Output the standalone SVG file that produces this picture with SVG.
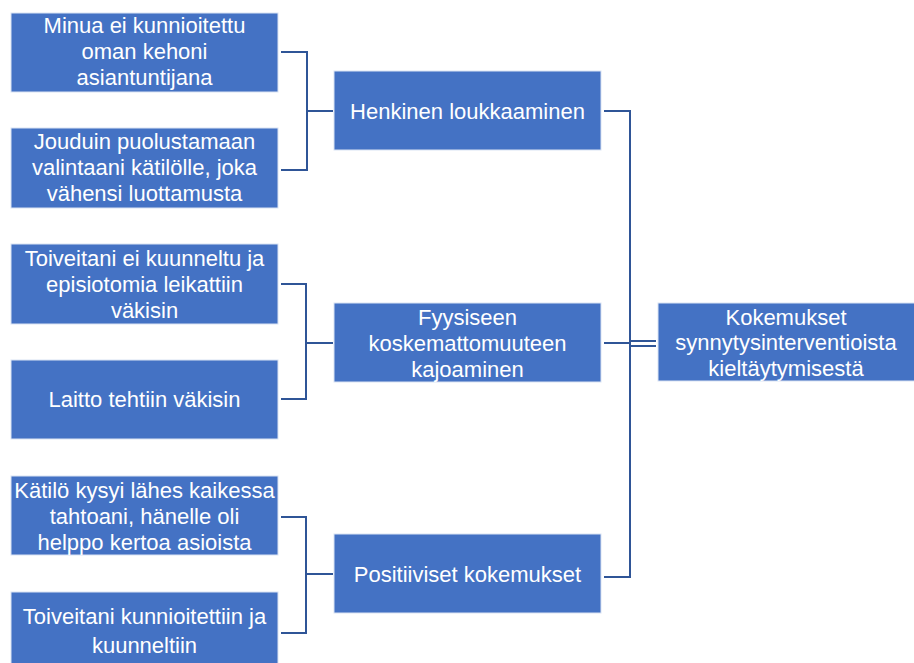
<svg xmlns="http://www.w3.org/2000/svg" width="914" height="663" viewBox="0 0 914 663">
<style>
.box{fill:#4472C4;stroke:#DAE3F3;stroke-width:1}
.t{font-family:"Liberation Sans",Arial,sans-serif;font-size:22px;fill:#FFFFFF;text-anchor:middle}
.c{fill:none;stroke:#2F5597;stroke-width:2}
</style>
<rect width="914" height="663" fill="#FFFFFF"/>
<g id="connectors">
<polyline class="c" points="281,52 307,52 307,170 281,170"/>
<line class="c" x1="307" y1="111" x2="333" y2="111"/>
<polyline class="c" points="281,284 306,284 306,399 281,399"/>
<line class="c" x1="306" y1="343" x2="333" y2="343"/>
<polyline class="c" points="281,517 306,517 306,633 281,633"/>
<line class="c" x1="306" y1="574" x2="333" y2="574"/>
<polyline class="c" points="604,111 630,111 630,577 604,577"/>
<line class="c" x1="604" y1="343" x2="630" y2="343"/>
<line class="c" x1="630" y1="341" x2="656" y2="341"/>
<line class="c" x1="630" y1="346" x2="656" y2="346"/>
</g>
<g id="n1"><rect class="box" x="11" y="13" width="267" height="79"/>
<text class="t" x="144.5" y="33">Minua ei kunnioitettu</text>
<text class="t" x="144.5" y="59">oman kehoni</text>
<text class="t" x="144.5" y="85">asiantuntijana</text></g>
<g id="n2"><rect class="box" x="11" y="128" width="267" height="80"/>
<text class="t" x="144.5" y="149">Jouduin puolustamaan</text>
<text class="t" x="144.5" y="175">valintaani kätilölle, joka</text>
<text class="t" x="144.5" y="201">vähensi luottamusta</text></g>
<g id="n3"><rect class="box" x="11" y="244" width="267" height="80"/>
<text class="t" x="144.5" y="266">Toiveitani ei kuunneltu ja</text>
<text class="t" x="144.5" y="292">episiotomia leikattiin</text>
<text class="t" x="144.5" y="318">väkisin</text></g>
<g id="n4"><rect class="box" x="11" y="360" width="267" height="79"/>
<text class="t" x="144.5" y="407">Laitto tehtiin väkisin</text></g>
<g id="n5"><rect class="box" x="11" y="476" width="267" height="79"/>
<text class="t" x="144.5" y="498">Kätilö kysyi lähes kaikessa</text>
<text class="t" x="144.5" y="524">tahtoani, hänelle oli</text>
<text class="t" x="144.5" y="550">helppo kertoa asioista</text></g>
<g id="n6"><rect class="box" x="11" y="592" width="267" height="80"/>
<text class="t" x="144.5" y="624">Toiveitani kunnioitettiin ja</text>
<text class="t" x="144.5" y="653">kuunneltiin</text></g>
<g id="m1"><rect class="box" x="334" y="71" width="267" height="79"/>
<text class="t" x="467.5" y="119">Henkinen loukkaaminen</text></g>
<g id="m2"><rect class="box" x="334" y="303" width="267" height="79"/>
<text class="t" x="467.5" y="325">Fyysiseen</text>
<text class="t" x="467.5" y="351">koskemattomuuteen</text>
<text class="t" x="467.5" y="377">kajoaminen</text></g>
<g id="m3"><rect class="box" x="334" y="534" width="267" height="79"/>
<text class="t" x="467.5" y="582">Positiiviset kokemukset</text></g>
<g id="r1"><rect class="box" x="658" y="303" width="260" height="78"/>
<text class="t" x="786" y="325">Kokemukset</text>
<text class="t" x="786" y="350">synnytysinterventioista</text>
<text class="t" x="786" y="376">kieltäytymisestä</text></g>
</svg>
